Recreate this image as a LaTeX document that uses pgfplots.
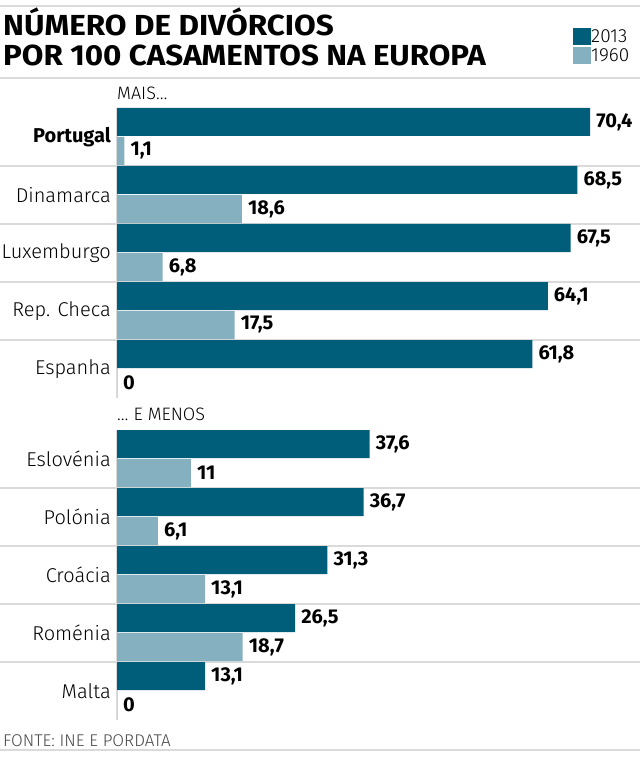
\documentclass[border=0pt]{standalone}
\usepackage{pgfplots}
\pgfplotsset{compat=1.18}
\usepackage{fontspec}
\setmainfont{Fira Sans}
\newfontfamily\lightfont{Fira Sans Light}
\definecolor{dark}{RGB}{0,94,122}
\definecolor{lite}{RGB}{133,176,191}
\definecolor{gridc}{RGB}{218,218,218}
\definecolor{foot}{RGB}{70,70,70}
\pgfplotsset{sqlegend/.style={legend image code/.code={\fill[##1] (0bp,-8.5bp) rectangle (18bp,8.5bp);}}}
\begin{document}
\begin{tikzpicture}
\begin{axis}[
  at={(0,0)}, anchor=south west,
  scale only axis, width=640bp, height=758bp,
  xmin=-17.411, xmax=77.827, ymin=0, ymax=758, y dir=reverse,
  axis lines=none, clip=false,
  point meta=x,
  nodes near coords={\pgfmathprintnumber[use comma,fixed,precision=1,assume math mode=true]{\pgfplotspointmeta}},
  nodes near coords style={anchor=west, inner sep=0pt, xshift=6bp, font=\fontsize{20bp}{22bp}\selectfont\bfseries},
  legend style={at={(axis cs:67.86,28)}, anchor=north west, draw=none, fill=none, inner sep=0pt,
    row sep=2bp, font=\lightfont\fontsize{19bp}{21bp}\selectfont, cells={anchor=west},
    nodes={inner sep=0pt, text height=13.5bp, text depth=2.5bp},
    /tikz/every even column/.append style={column sep=3bp}},
]
% gridlines
\foreach \yy in {166,224,282,340,488,546,604,662}{
  \edef\tmp{\noexpand\draw[gridc, line width=1.2bp] (axis cs:-17.411,\yy) -- (axis cs:77.827,\yy);}\tmp
}
\draw[gridc, line width=1.2bp] (axis cs:0,108) -- (axis cs:0,398);
\draw[gridc, line width=1.2bp] (axis cs:0,430) -- (axis cs:0,720);
\addplot[xbar, bar width=28, bar shift=0pt, fill=dark, draw=none, sqlegend] coordinates {
 (70.4,122) (68.5,180) (67.5,238) (64.1,296) (61.8,354)
 (37.6,444) (36.7,502) (31.3,560) (26.5,618) (13.1,676)};
\addplot[xbar, bar width=28, bar shift=0pt, fill=lite, draw=none, sqlegend] coordinates {
 (1.1,151) (18.6,209) (6.8,267) (17.5,325) (0,383)
 (11,473) (6.1,531) (13.1,589) (18.7,647) (0,705)};
\legend{2013,1960}
\begin{scope}[every node/.style={anchor=east, inner sep=0pt, font=\lightfont\fontsize{20bp}{24bp}\selectfont}]
\node[font=\fontsize{20bp}{24bp}\selectfont\bfseries] at (axis cs:-0.9,137) {Portugal};
\node at (axis cs:-0.9,195) {Dinamarca};
\node at (axis cs:-0.9,253) {Luxemburgo};
\node at (axis cs:-0.9,311) {Rep. Checa};
\node at (axis cs:-0.9,369) {Espanha};
\node at (axis cs:-0.9,459) {Eslovénia};
\node at (axis cs:-0.9,517) {Polónia};
\node at (axis cs:-0.9,575) {Croácia};
\node at (axis cs:-0.9,633) {Roménia};
\node at (axis cs:-0.9,691) {Malta};
\end{scope}
\end{axis}
% frame lines and texts (picture coordinates, 1bp = 1px)
\draw[gridc, line width=1.5bp] (0,752bp) -- (640bp,752bp);
\draw[gridc, line width=1.5bp] (0,680bp) -- (640bp,680bp);
\draw[gridc, line width=1.5bp] (0,8bp) -- (640bp,8bp);
\node[anchor=base west, inner sep=0pt, font=\fontsize{29bp}{30bp}\selectfont\bfseries] at (3bp,722bp) {\scalebox{1.085}[1]{NÚMERO DE DIVÓRCIOS}};
\node[anchor=base west, inner sep=0pt, font=\fontsize{29bp}{30bp}\selectfont\bfseries] at (3bp,692bp) {\scalebox{1.08}[1]{POR 100 CASAMENTOS NA EUROPA}};
\node[anchor=west, inner sep=0pt, font=\lightfont\fontsize{18bp}{20bp}\selectfont] at (117bp,665bp) {MAIS…};
\node[anchor=west, inner sep=0pt, font=\lightfont\fontsize{18bp}{20bp}\selectfont] at (117bp,344bp) {… E MENOS};
\node[anchor=west, inner sep=0pt, text=foot, font=\lightfont\fontsize{17bp}{20bp}\selectfont] at (3bp,17bp) {FONTE: INE E PORDATA};
\pgfresetboundingbox
\path (0,0) rectangle (640bp,758bp);
\end{tikzpicture}
\end{document}
